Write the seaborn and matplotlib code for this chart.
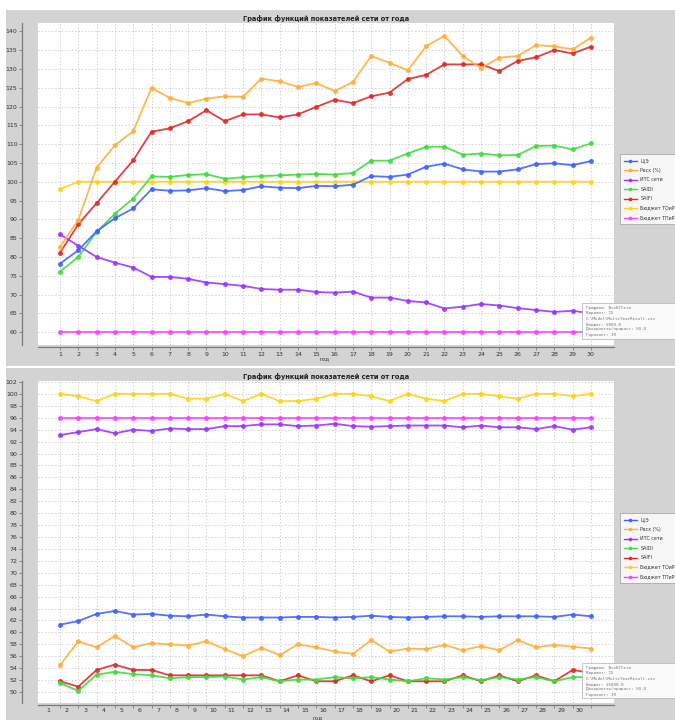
import matplotlib
matplotlib.use("Agg")
import matplotlib.pyplot as plt
from matplotlib.patches import Rectangle
from matplotlib.lines import Line2D
import seaborn as sns
import pandas as pd

# --- data ---
years = list(range(1, 31))
series_names = ["Ц/Э", "Рвсх (%)", "ИТС сети", "SAIDI", "SAIFI", "Бюджет ТОиР", "Бюджет ТПиР"]
series_colors = ["#3f63ff", "#ffb03a", "#9a36ff", "#3fdc3f", "#e02a2a", "#ffd21a", "#ff40ff"]

top_cz = [78.2, 81.8, 86.8, 90.3, 92.9, 98.0, 97.6, 97.7, 98.3, 97.5, 97.8, 98.8, 98.4, 98.3, 98.9,
          98.8, 99.2, 101.5, 101.3, 101.9, 104.0, 104.8, 103.3, 102.7, 102.7, 103.3, 104.7, 104.9, 104.4, 105.5]
top_rvsh = [82.7, 89.8, 103.7, 109.7, 113.4, 124.9, 122.3, 120.9, 122.1, 122.7, 122.6, 127.4, 126.7, 125.2, 126.2,
            124.1, 126.5, 133.4, 131.6, 129.6, 136.0, 138.8, 133.4, 130.2, 133.0, 133.4, 136.3, 136.0, 135.2, 138.3]
top_its = [86.0, 83.0, 80.0, 78.5, 77.2, 74.7, 74.7, 74.2, 73.2, 72.8, 72.3, 71.5, 71.3, 71.3, 70.7,
           70.5, 70.8, 69.2, 69.2, 68.3, 67.9, 66.3, 66.8, 67.5, 67.1, 66.4, 65.9, 65.4, 65.7, 65.0]
top_saidi = [76.1, 80.0, 86.6, 91.5, 95.5, 101.4, 101.3, 101.8, 102.0, 100.8, 101.2, 101.5, 101.7, 101.9, 102.1,
             101.9, 102.3, 105.6, 105.6, 107.5, 109.3, 109.3, 107.2, 107.5, 107.0, 107.1, 109.5, 109.6, 108.6, 110.2]
top_saifi = [81.1, 88.7, 94.3, 100.0, 105.7, 113.3, 114.2, 116.1, 119.0, 116.1, 117.9, 117.9, 117.1, 117.9, 119.9,
             121.8, 120.9, 122.7, 123.7, 127.3, 128.4, 131.2, 131.2, 131.2, 129.4, 132.1, 133.1, 135.0, 134.1, 135.9]
top_toir = [98, 100, 100, 100, 100, 100, 100, 100, 100, 100, 100, 100, 100, 100, 100,
            100, 100, 100, 100, 100, 100, 100, 100, 100, 100, 100, 100, 100, 100, 100]
top_tpir = [60, 60, 60, 60, 60, 60, 60, 60, 60, 60, 60, 60, 60, 60, 60,
            60, 60, 60, 60, 60, 60, 60, 60, 60, 60, 60, 60, 60, 60, 60]

bot_cz = [61.3, 61.9, 63.1, 63.6, 63.0, 63.1, 62.8, 62.7, 63.0, 62.7, 62.5, 62.5, 62.5, 62.6, 62.6,
          62.5, 62.6, 62.8, 62.6, 62.5, 62.6, 62.7, 62.7, 62.6, 62.7, 62.7, 62.7, 62.6, 63.0, 62.7]
bot_rvsh = [54.5, 58.5, 57.5, 59.4, 57.5, 58.2, 58.0, 57.8, 58.5, 57.2, 56.0, 57.4, 56.2, 58.0, 57.5,
            56.8, 56.4, 58.7, 56.8, 57.3, 57.2, 57.9, 57.0, 57.7, 57.0, 58.7, 57.5, 57.9, 57.6, 57.3]
bot_its = [93.1, 93.6, 94.1, 93.4, 94.0, 93.8, 94.2, 94.1, 94.1, 94.6, 94.6, 94.9, 94.9, 94.6, 94.7,
           95.0, 94.6, 94.5, 94.6, 94.7, 94.7, 94.7, 94.4, 94.7, 94.4, 94.4, 94.1, 94.6, 94.0, 94.4]
bot_saidi = [51.5, 50.2, 52.9, 53.4, 53.0, 52.8, 52.3, 52.5, 52.5, 52.6, 52.1, 52.5, 51.8, 52.1, 52.1,
             52.5, 52.3, 52.5, 52.1, 51.8, 52.3, 52.1, 52.5, 52.0, 52.5, 52.1, 52.5, 51.8, 52.5, 52.5]
bot_saifi = [51.8, 50.9, 53.7, 54.6, 53.7, 53.7, 52.8, 52.8, 52.8, 52.8, 52.8, 52.8, 51.8, 52.8, 51.8,
             51.8, 52.8, 51.8, 52.8, 51.8, 51.8, 51.8, 52.8, 51.8, 52.8, 51.8, 52.8, 51.8, 53.7, 53.2]
bot_toir = [100, 99.6, 98.8, 100, 100, 100, 100, 99.2, 99.2, 100, 98.8, 100, 98.8, 98.8, 99.2,
            100, 100, 99.6, 98.8, 100, 99.2, 98.8, 100, 100, 99.6, 99.2, 100, 100, 99.6, 100]
bot_tpir = [96, 96, 96, 96, 96, 96, 96, 96, 96, 96, 96, 96, 96, 96, 96,
            96, 96, 96, 96, 96, 96, 96, 96, 96, 96, 96, 96, 96, 96, 96]

top_series = [top_cz, top_rvsh, top_its, top_saidi, top_saifi, top_toir, top_tpir]
bot_series = [bot_cz, bot_rvsh, bot_its, bot_saidi, bot_saifi, bot_toir, bot_tpir]

title = "График функций показателей сети от года"
x_label = "год"
info_top = ["Графики: ВсеКТСети", "Вариант: 15", "C:\\Model\\MultiYearResult.csv",
            "Бюджет: 5000.0", "Доходность/прирост: 50.0", "Горизонт: 30"]
info_bot = ["Графики: ВсеКТСети", "Вариант: 15", "C:\\Model\\MultiYearResult.csv",
            "Бюджет: 25000.0", "Доходность/прирост: 50.0", "Горизонт: 30"]

plt.rcParams['font.family'] = ['DejaVu Sans']

W, H = 675, 720
PANEL = "#d3d3d3"


def rect(x0, y0, x1, y1):
    return [x0 / W, 1 - y1 / H, (x1 - x0) / W, (y1 - y0) / H]


def to_long(values):
    rows = []
    for name, vals in zip(series_names, values):
        for yr, v in zip(years, vals):
            rows.append({"year": yr, "value": v, "series": name})
    return pd.DataFrame(rows)


fig = plt.figure(figsize=(W / 100, H / 100), dpi=100)
fig.patch.set_facecolor("white")

# grey chart panels
fig.add_artist(Rectangle((6 / W, 1 - 366 / H), 669 / W, 356 / H, transform=fig.transFigure,
                         facecolor=PANEL, edgecolor="none", zorder=0))
fig.add_artist(Rectangle((6 / W, 0), 669 / W, 352 / H, transform=fig.transFigure,
                         facecolor=PANEL, edgecolor="none", zorder=0))


def draw_chart(box, values, ylim, yticks, title_y, label_shift, xlabel_pos, legend_top, info_box, info_lines):
    ax = fig.add_axes(rect(*box))
    ax.set_facecolor("white")
    df = to_long(values)
    sns.lineplot(data=df, x="year", y="value", hue="series", hue_order=series_names[::-1],
                 palette=dict(zip(series_names, series_colors)), marker="o", markersize=3.6,
                 markeredgewidth=0, linewidth=1.3, alpha=0.9, legend=False, ax=ax)
    ax.set_xlim(-0.2, 31.26)
    ax.set_ylim(*ylim)
    ax.set_yticks(yticks)
    ax.set_yticklabels([str(t) for t in yticks])
    ax.set_xticks(years)
    if label_shift:
        ax.set_xticklabels([""] * len(years))
        ax.set_xticks([y - label_shift for y in years], [str(y) for y in years], minor=True)
        ax.tick_params(axis="x", which="minor", length=0, pad=2.2, labelsize=4.5, labelcolor="#333333")
    else:
        ax.set_xticklabels([str(y) for y in years])
    ax.set_xlabel("")
    ax.set_ylabel("")
    ax.grid(True, which="major", linestyle=(0, (1.5, 2.5)), color="#c4c4c4", linewidth=0.6)
    ax.set_axisbelow(True)
    for s in ["top", "right"]:
        ax.spines[s].set_visible(False)
    ax.spines["left"].set_position(("outward", 11.5))
    ax.spines["bottom"].set_position(("outward", 1.5))
    for s in ["left", "bottom"]:
        ax.spines[s].set_color("#7a7a7a")
        ax.spines[s].set_linewidth(0.9)
    ax.tick_params(axis="both", which="major", labelsize=4.5, length=2, width=0.6,
                   color="#7a7a7a", labelcolor="#333333", pad=1.2)

    fig.text(326 / W, 1 - title_y / H, title, ha="center", va="center", fontsize=4.8,
             fontweight="bold", color="#222222")
    fig.text(xlabel_pos[0] / W, 1 - xlabel_pos[1] / H, x_label, ha="center", va="center",
             fontsize=4, color="#333333")

    handles = [Line2D([], [], color=c, marker="o", markersize=2.6, markeredgewidth=0, linewidth=1.0)
               for c in series_colors]
    leg = ax.legend(handles, series_names, loc="upper left",
                    bbox_to_anchor=(620 / W, 1 - legend_top / H), bbox_transform=fig.transFigure,
                    fontsize=3.4, frameon=True, fancybox=False, handlelength=2.6, handletextpad=0.8,
                    labelspacing=0.95, borderpad=0.9, borderaxespad=0)
    leg.get_frame().set_edgecolor("#9a9a9a")
    leg.get_frame().set_linewidth(0.6)
    for t in leg.get_texts():
        t.set_color("#333333")

    # info note box, runs past the right edge like in the reference
    x0, y0, y1 = info_box
    fig.add_artist(Rectangle((x0 / W, 1 - y1 / H), (W + 5 - x0) / W, (y1 - y0) / H,
                             transform=fig.transFigure, facecolor="#fafafa",
                             edgecolor="#b0b0b0", linewidth=0.5, zorder=5))
    fig.text((x0 + 4) / W, 1 - (y0 + 3) / H, "\n".join(info_lines), ha="left", va="top",
             fontsize=3.1, family="DejaVu Sans Mono", color="#777777", linespacing=1.45, zorder=6)
    return ax


draw_chart((38, 23, 614, 345), top_series, (56.6, 142.2), list(range(60, 141, 5)), 18, 0,
           (325, 359), 154, (582, 303, 339), info_top)
draw_chart((38, 381, 614, 703), bot_series, (48.16, 102.17), list(range(50, 103, 2)), 376, 0.63,
           (318, 718), 513, (582, 663, 698), info_bot)

fig.savefig("out.png", dpi=100)
